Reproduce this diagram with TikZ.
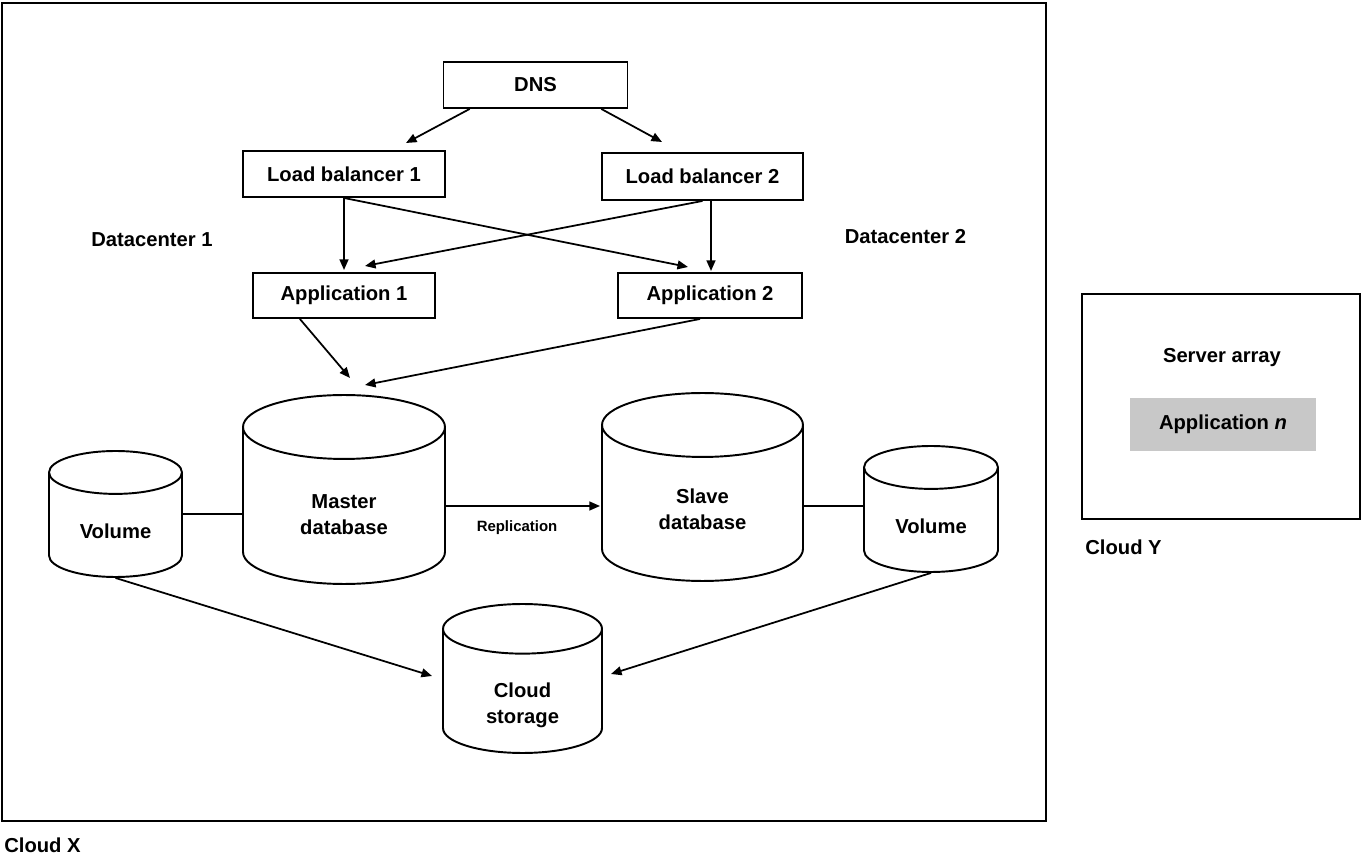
\documentclass[tikz,border=0pt]{standalone}
\usepackage{fontspec}
\setmainfont{Liberation Sans}
\usetikzlibrary{shapes.geometric, arrows.meta}
\definecolor{AppGray}{RGB}{200,200,200}
% lowers the text of a cylinder below its top ellipse
\newcommand{\dbtext}[2]{\raisebox{-#1}[\height][\depth]{\begin{tabular}{@{}c@{}}#2\end{tabular}}}
\tikzset{
  lbl/.style={font=\bfseries\fontsize{11.5}{14.7}\selectfont, inner sep=0pt},
  box/.style={lbl, draw, line width=1.1pt},
  db/.style={lbl, draw, cylinder, shape border rotate=90, aspect=#1, line width=1.1pt, anchor=shape center},
  link/.style={line width=1pt, -{Triangle[length=6pt,width=5pt]}},
  tie/.style={line width=1.1pt},
}
\begin{document}
\begin{tikzpicture}[x=0.02cm, y=-0.02cm]
          \useasboundingbox (0,0) rectangle (1363,854);
          % Cloud X
          \draw[line width=1.1pt] (2,3) rectangle (1046,821);
          \node[lbl,anchor=west] (cloudx) at (4,845) {Cloud X};
          \node[box,minimum width=3.68cm,minimum height=0.92cm] (dns) at (535.5,85) {DNS};
          \node[box,minimum width=4.04cm,minimum height=0.92cm] (lbA) at (344,174) {Load balancer 1};
          \node[box,minimum width=4.02cm,minimum height=0.94cm] (lbB) at (702.5,176.5) {Load balancer 2};
          \node[lbl] (dcA) at (152,240) {Datacenter 1};
          \node[lbl] (dcB) at (905.5,237) {Datacenter 2};
          \node[box,minimum width=3.64cm,minimum height=0.9cm] (appA) at (344,295.5) {Application 1};
          \node[box,minimum width=3.68cm,minimum height=0.9cm] (appB) at (710,295.5) {Application 2};
          \node[db=0.73,minimum width=4.04cm,minimum height=3.78cm] (master) at (344,489.5) {\dbtext{6pt}{Master\\database}};
          \node[db=0.73,minimum width=4.02cm,minimum height=3.76cm] (slave) at (702.5,487) {\dbtext{4.3pt}{Slave\\database}};
          \node[db=0.6,minimum width=2.66cm,minimum height=2.52cm] (volA) at (115.5,514) {\dbtext{4.8pt}{Volume}};
          \node[db=0.6,minimum width=2.68cm,minimum height=2.52cm] (volB) at (931,509) {\dbtext{4.8pt}{Volume}};
          \node[db=0.68,minimum width=3.18cm,minimum height=2.98cm] (store) at (522.5,678.5) {\dbtext{8pt}{Cloud\\storage}};
          \node[lbl,font=\bfseries\fontsize{8.5}{10}\selectfont] (repl) at (517,528) {Replication};
          % arrow ends
          \coordinate (tipLbA) at (406,143);
          \coordinate (tipLbB) at (662,142);
          \coordinate (tipAppA) at (344,270);
          \coordinate (tipAppB) at (711,271);
          \coordinate (crossA) at (365,266);
          \coordinate (crossB) at (688,267);
          \coordinate (tipMasterA) at (350,378);
          \coordinate (tipMasterB) at (365,385);
          \coordinate (tipSlave) at (600,506);
          \coordinate (tipStoreA) at (432,676);
          \coordinate (tipStoreB) at (611,674);
          \draw[link] (dns.200) -- (tipLbA);
          \draw[link] (dns.-20) -- (tipLbB);
          \draw[link] (lbA.south) -- (tipAppA);
          \draw[link] (lbA.south) -- (crossB);
          \draw[link] (lbB.south) -- (crossA);
          \draw[link] (lbB.south -| tipAppB) -- (tipAppB);
          \draw[link] (appA.208) -- (tipMasterA);
          \draw[link] (appB.247) -- (tipMasterB);
          \draw[link] (tipSlave -| master.east) -- (tipSlave);
          \draw[tie] (volA.shape center -| volA.east) -- (volA.shape center -| master.west);
          \draw[tie] (tipSlave -| slave.east) -- (tipSlave -| volB.west);
          \draw[link] (volA.south) -- (tipStoreA);
          \draw[link] (volB.south) -- (tipStoreB);
          % Cloud Y
          \draw[line width=1.1pt] (1082,294) rectangle (1360,519);
          \node[lbl] (array) at (1222,358) {Server array};
          \node[lbl,fill=AppGray,minimum width=3.72cm,minimum height=1.06cm] (appN) at (1223,424.5) {Application \textit{n}};
          \node[lbl,anchor=west] (cloudy) at (1085,547) {Cloud Y};
        \end{tikzpicture}
\end{document}
